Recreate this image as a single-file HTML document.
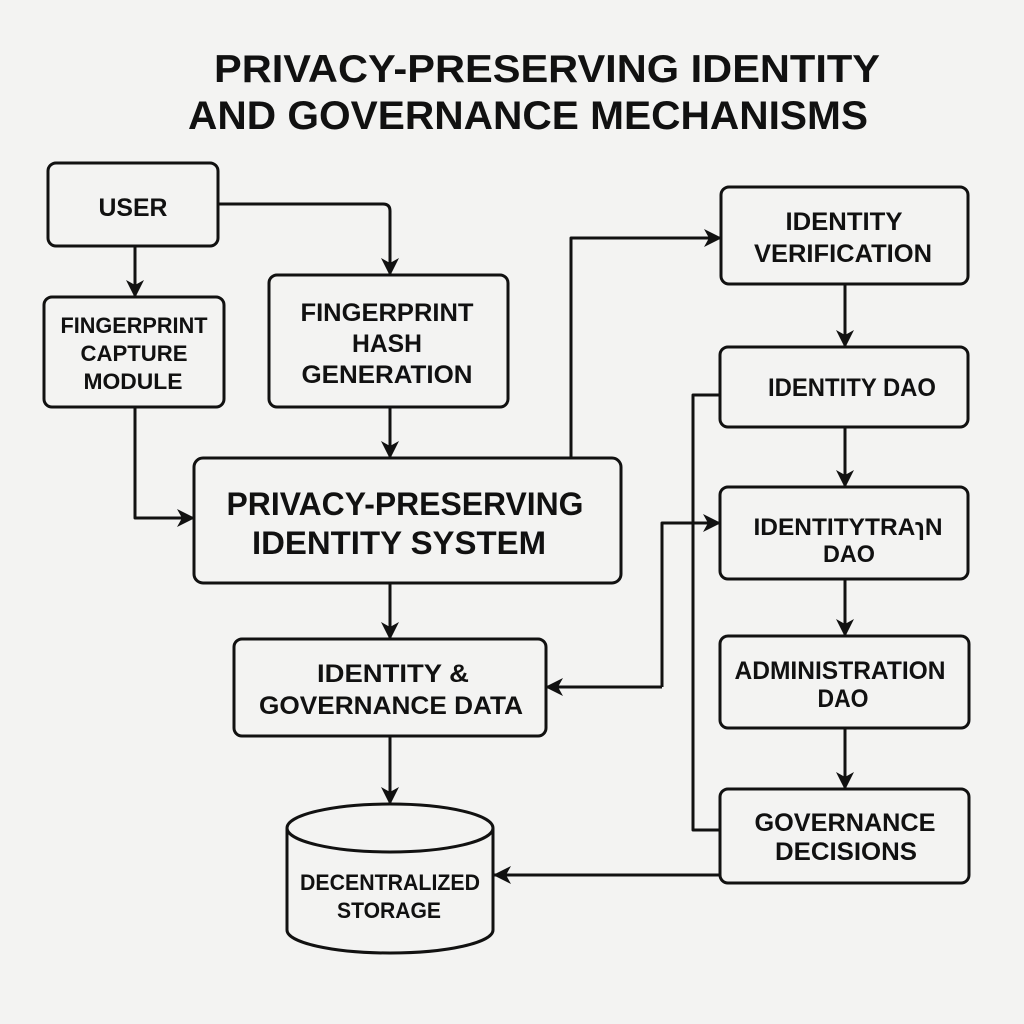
<!DOCTYPE html>
<html><head><meta charset="utf-8"><style>
html,body{margin:0;padding:0;background:#f3f3f2;}
svg{display:block}
text{font-family:"Liberation Sans","DejaVu Sans",sans-serif;font-weight:bold;fill:#111;text-anchor:middle}
</style></head><body>
<svg width="1024" height="1024" viewBox="0 0 1024 1024" xmlns="http://www.w3.org/2000/svg">
<defs>
<marker id="a" viewBox="0 0 18 18" refX="17" refY="9" markerWidth="18" markerHeight="18" markerUnits="userSpaceOnUse" orient="auto">
<path d="M0,0 L18,9 L0,18 L5,9 z" fill="#111"/>
</marker>
</defs>
<rect width="1024" height="1024" fill="#f3f3f2"/>

<!-- Title -->
<text x="547" y="82" font-size="39" textLength="666" lengthAdjust="spacingAndGlyphs">PRIVACY-PRESERVING IDENTITY</text>
<text x="528" y="129" font-size="40" textLength="680" lengthAdjust="spacingAndGlyphs">AND GOVERNANCE MECHANISMS</text>

<g fill="none" stroke="#111" stroke-width="3" stroke-linejoin="round">
<!-- boxes -->
<rect x="48" y="163" width="170" height="83" rx="8"/>
<rect x="44" y="297" width="180" height="110" rx="8"/>
<rect x="269" y="275" width="239" height="132" rx="8"/>
<rect x="194" y="458" width="427" height="125" rx="9"/>
<rect x="721" y="187" width="247" height="97" rx="8"/>
<rect x="720" y="347" width="248" height="80" rx="8"/>
<rect x="720" y="487" width="248" height="92" rx="8"/>
<rect x="234" y="639" width="312" height="97" rx="8"/>
<rect x="720" y="636" width="249" height="92" rx="8"/>
<rect x="720" y="789" width="249" height="94" rx="8"/>

<!-- connectors -->
<path d="M135,246 L135,297" marker-end="url(#a)"/>
<path d="M218,204 L383,204 Q390,204 390,211 L390,275" marker-end="url(#a)"/>
<path d="M135,407 L135,518 L194,518" marker-end="url(#a)"/>
<path d="M390,407 L390,458" marker-end="url(#a)"/>
<path d="M571,458 L571,238 L721,238" marker-end="url(#a)"/>
<path d="M845,284 L845,347" marker-end="url(#a)"/>
<path d="M845,427 L845,487" marker-end="url(#a)"/>
<path d="M845,579 L845,636" marker-end="url(#a)"/>
<path d="M845,728 L845,789" marker-end="url(#a)"/>
<path d="M720,395 L693,395 L693,830 L720,830"/>
<path d="M662,687 L662,523 L720,523" marker-end="url(#a)"/>
<path d="M662,687 L546,687" marker-end="url(#a)"/>
<path d="M390,583 L390,639" marker-end="url(#a)"/>
<path d="M390,736 L390,804" marker-end="url(#a)"/>
<path d="M720,875 L494,875" marker-end="url(#a)"/>

<!-- cylinder -->
<path d="M287,828 L287,930 A103,23 0 0 0 493,930 L493,828" fill="#f3f3f2"/>
<ellipse cx="390" cy="828" rx="103" ry="24" fill="#f3f3f2"/>
</g>

<!-- labels -->
<text x="133" y="216" font-size="25" textLength="69" lengthAdjust="spacingAndGlyphs">USER</text>

<text x="134" y="333" font-size="22" textLength="147" lengthAdjust="spacingAndGlyphs">FINGERPRINT</text>
<text x="134" y="361" font-size="22" textLength="107" lengthAdjust="spacingAndGlyphs">CAPTURE</text>
<text x="133" y="389" font-size="22" textLength="99" lengthAdjust="spacingAndGlyphs">MODULE</text>

<text x="387" y="321" font-size="25" textLength="173" lengthAdjust="spacingAndGlyphs">FINGERPRINT</text>
<text x="387" y="352" font-size="25" textLength="70" lengthAdjust="spacingAndGlyphs">HASH</text>
<text x="387" y="383" font-size="25" textLength="171" lengthAdjust="spacingAndGlyphs">GENERATION</text>

<text x="405" y="515" font-size="32" textLength="357" lengthAdjust="spacingAndGlyphs">PRIVACY-PRESERVING</text>
<text x="399" y="554" font-size="32" textLength="294" lengthAdjust="spacingAndGlyphs">IDENTITY SYSTEM</text>

<text x="844" y="230" font-size="25" textLength="117" lengthAdjust="spacingAndGlyphs">IDENTITY</text>
<text x="843" y="262" font-size="25" textLength="178" lengthAdjust="spacingAndGlyphs">VERIFICATION</text>

<text x="852" y="396" font-size="25" textLength="168" lengthAdjust="spacingAndGlyphs">IDENTITY DAO</text>

<text x="848" y="535" font-size="24" textLength="189" lengthAdjust="spacingAndGlyphs">IDENTITYTRAɿN</text>
<text x="849" y="562" font-size="24" textLength="52" lengthAdjust="spacingAndGlyphs">DAO</text>

<text x="393" y="682" font-size="25" textLength="152" lengthAdjust="spacingAndGlyphs">IDENTITY &amp;</text>
<text x="391" y="714" font-size="25" textLength="264" lengthAdjust="spacingAndGlyphs">GOVERNANCE DATA</text>

<text x="840" y="679" font-size="25" textLength="211" lengthAdjust="spacingAndGlyphs">ADMINISTRATION</text>
<text x="843" y="707" font-size="25" textLength="51" lengthAdjust="spacingAndGlyphs">DAO</text>

<text x="845" y="831" font-size="25" textLength="181" lengthAdjust="spacingAndGlyphs">GOVERNANCE</text>
<text x="846" y="860" font-size="25" textLength="142" lengthAdjust="spacingAndGlyphs">DECISIONS</text>

<text x="390" y="890" font-size="22" textLength="180" lengthAdjust="spacingAndGlyphs">DECENTRALIZED</text>
<text x="389" y="918" font-size="22" textLength="104" lengthAdjust="spacingAndGlyphs">STORAGE</text>
</svg>
</body></html>
